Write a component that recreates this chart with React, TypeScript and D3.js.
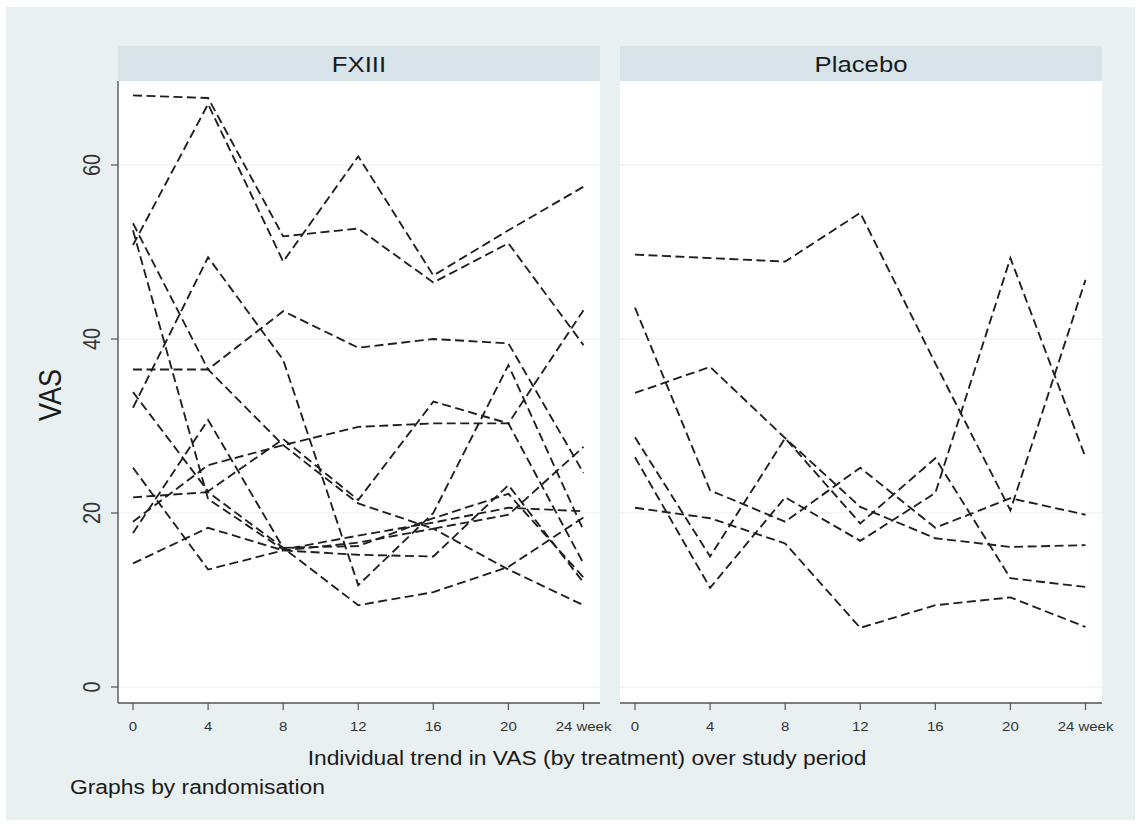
import React from "react";
import * as d3 from "d3";

// Study visits (weeks) and axis labels
const weeks = [0, 4, 8, 12, 16, 20, 24];
const weekLabels = ["0", "4", "8", "12", "16", "20", "24 week"];
const vasTicks = [0, 20, 40, 60];
const panelNames = ["FXIII", "Placebo"];

// Individual VAS trajectories, one row per patient, one value per visit
const fxiiiSeries: number[][] = [
  [68, 67.7, 51.8, 52.7, 46.5, 51, 39.3],
  [50.8, 67, 48.9, 61, 47.3, 52.5, 57.5],
  [36.5, 36.5, 43.2, 39, 40, 39.5, 24.6],
  [53.3, 36.5, 27.8, 21.1, 18.2, 19.8, 27.6],
  [32.1, 49.4, 37.6, 11.7, 20, 37, 18],
  [52.5, 21.6, 15.8, 17.4, 18.9, 20.6, 20.2],
  [33.9, 22.5, 28.5, 21.5, 32.8, 30.3, 14.2],
  [25.2, 13.5, 15.7, 16.6, 18.2, 13.5, 9.4],
  [17.7, 30.7, 16, 16.2, 19.4, 22.2, 12.6],
  [21.8, 22.4, 16, 9.4, 10.9, 13.8, 19.5],
  [19, 25.5, 27.8, 29.9, 30.3, 30.3, 43.3],
  [14.2, 18.3, 15.7, 15.2, 15, 23.2, 12],
];

const placeboSeries: number[][] = [
  [49.7, 49.3, 48.9, 54.5, 37.2, 20.3, 46.8],
  [43.6, 22.6, 19.0, 25.2, 18.3, 21.7, 19.8],
  [33.8, 36.8, 28.6, 20.7, 17.1, 16.1, 16.3],
  [28.7, 15.0, 28.6, 18.8, 26.3, 12.5, 11.5],
  [26.4, 11.4, 21.8, 16.8, 22.3, 49.3, 26.4],
  [20.6, 19.4, 16.5, 6.8, 9.4, 10.3, 6.9],
];

const W = 1141;
const H = 827;
const FONT = "'Liberation Sans', Arial, Helvetica, sans-serif";
const SX = 1.17; // horizontal stretch applied to text glyphs

const plotTop = 81;
const plotBottom = 703;
const panelsGeom = [
  { left: 118, right: 600 },
  { left: 620, right: 1102 },
];

const y = d3.scaleLinear().domain([0, 60]).range([687, 165]);

function StretchText(props: {
  x: number;
  y: number;
  size: number;
  anchor?: string;
  rotate?: number;
  fill?: string;
  children: React.ReactNode;
}) {
  const { x, y: ty, size, anchor = "middle", rotate = 0, fill = "#222", children } = props;
  const tf = rotate
    ? `translate(${x},${ty}) scale(${SX},1) rotate(${rotate})`
    : `translate(${x},${ty}) scale(${SX},1)`;
  return (
    <text
      transform={tf}
      textAnchor={anchor}
      fontFamily={FONT}
      fontSize={size}
      fill={fill}
    >
      {children}
    </text>
  );
}

function Panel(props: { idx: number; series: number[][] }) {
  const { idx, series } = props;
  const g = panelsGeom[idx];
  const x = d3
    .scaleLinear()
    .domain([0, 24])
    .range([g.left + 15, g.left + 465.5]);
  const line = d3
    .line<number>()
    .x((_, i) => x(weeks[i]))
    .y((v) => y(v));

  return (
    <g>
      {/* strip header */}
      <rect x={g.left} y={46} width={g.right - g.left} height={plotTop - 46} fill="#d8e4ea" />
      <StretchText x={(g.left + g.right) / 2} y={71.5} size={22} fill="#1a1a1a">
        {panelNames[idx]}
      </StretchText>
      {/* plot region */}
      <rect x={g.left} y={plotTop} width={g.right - g.left} height={plotBottom - plotTop} fill="#ffffff" />
      {vasTicks.map((t) => (
        <line
          key={t}
          x1={g.left}
          x2={g.right}
          y1={y(t)}
          y2={y(t)}
          stroke="#e6eff1"
          strokeWidth={1.2}
        />
      ))}
      {series.map((s, i) => (
        <path
          key={i}
          d={line(s) || ""}
          fill="none"
          stroke="#1e1e1e"
          strokeWidth={1.85}
          strokeDasharray="9 4.5"
          strokeLinejoin="miter"
        />
      ))}
      {/* x axis */}
      <line x1={g.left} x2={g.right} y1={plotBottom} y2={plotBottom} stroke="#555" strokeWidth={1.4} />
      {weeks.map((w, i) => (
        <g key={w}>
          <line x1={x(w)} x2={x(w)} y1={plotBottom} y2={plotBottom + 7} stroke="#555" strokeWidth={1.2} />
          <StretchText x={x(w)} y={731} size={12.8} fill="#333">
            {weekLabels[i]}
          </StretchText>
        </g>
      ))}
      {/* y axis on the first panel only */}
      {idx === 0 && (
        <g>
          <line x1={g.left} x2={g.left} y1={plotTop} y2={plotBottom} stroke="#555" strokeWidth={1.4} />
          {vasTicks.map((t) => (
            <g key={t}>
              <line x1={g.left - 7} x2={g.left} y1={y(t)} y2={y(t)} stroke="#555" strokeWidth={1.2} />
              <text
                transform={`translate(${g.left - 18},${y(t)}) scale(${SX},1) rotate(-90)`}
                textAnchor="middle"
                fontFamily={FONT}
                fontSize={20}
                fill="#333"
              >
                {t}
              </text>
            </g>
          ))}
        </g>
      )}
    </g>
  );
}

export default function App() {
  return (
    <svg
      width={W}
      height={H}
      viewBox={`0 0 ${W} ${H}`}
      style={{ position: "absolute", left: 0, top: 0, background: "#ffffff" }}
    >
      <rect x={6} y={7} width={1129} height={813} fill="#e9f0f2" />
      <Panel idx={0} series={fxiiiSeries} />
      <Panel idx={1} series={placeboSeries} />
      <text
        transform={`translate(61,395) scale(${SX},1) rotate(-90)`}
        textAnchor="middle"
        fontFamily={FONT}
        fontSize={27}
        fill="#1a1a1a"
      >
        VAS
      </text>
      <StretchText x={587} y={765} size={19.5} fill="#1a1a1a">
        Individual trend in VAS (by treatment) over study period
      </StretchText>
      <StretchText x={70} y={794} size={19.5} anchor="start" fill="#1a1a1a">
        Graphs by randomisation
      </StretchText>
    </svg>
  );
}
